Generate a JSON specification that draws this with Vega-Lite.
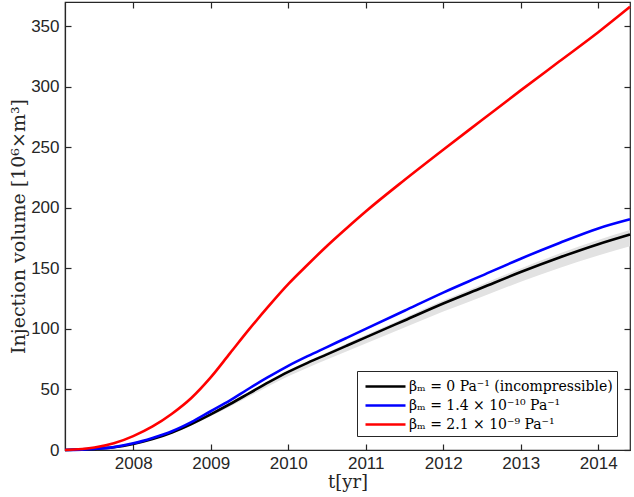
{
  "$schema": "https://vega.github.io/schema/vega-lite/v6.json",
  "width": 565,
  "height": 448,
  "autosize": "none",
  "padding": {"left": 65, "top": 2, "right": 4, "bottom": 47},
  "config": {
    "view": {"stroke": "#262626", "strokeWidth": 1.2},
    "axis": {
      "grid": false,
      "domainColor": "#262626",
      "tickColor": "#262626",
      "labelColor": "#262626",
      "labelFont": "Liberation Sans",
      "labelFontSize": 17,
      "titleFont": "DejaVu Serif",
      "titleFontSize": 19,
      "titleFontWeight": "normal",
      "titleColor": "#262626",
      "tickSize": -6,
      "domainWidth": 1.2,
      "tickWidth": 1.2
    }
  },
  "datasets": {
    "lines": [
      {"t": 2007.12, "v": 0, "s": "βₘ = 0 Pa⁻¹ (incompressible)"},
      {"t": 2007.5, "v": 0.8, "s": "βₘ = 0 Pa⁻¹ (incompressible)"},
      {"t": 2007.75, "v": 2.2, "s": "βₘ = 0 Pa⁻¹ (incompressible)"},
      {"t": 2008.0, "v": 5, "s": "βₘ = 0 Pa⁻¹ (incompressible)"},
      {"t": 2008.25, "v": 9, "s": "βₘ = 0 Pa⁻¹ (incompressible)"},
      {"t": 2008.5, "v": 14.5, "s": "βₘ = 0 Pa⁻¹ (incompressible)"},
      {"t": 2008.75, "v": 21.5, "s": "βₘ = 0 Pa⁻¹ (incompressible)"},
      {"t": 2009.0, "v": 29.5, "s": "βₘ = 0 Pa⁻¹ (incompressible)"},
      {"t": 2009.25, "v": 38, "s": "βₘ = 0 Pa⁻¹ (incompressible)"},
      {"t": 2009.5, "v": 47, "s": "βₘ = 0 Pa⁻¹ (incompressible)"},
      {"t": 2009.75, "v": 56, "s": "βₘ = 0 Pa⁻¹ (incompressible)"},
      {"t": 2010.0, "v": 64.5, "s": "βₘ = 0 Pa⁻¹ (incompressible)"},
      {"t": 2010.25, "v": 72, "s": "βₘ = 0 Pa⁻¹ (incompressible)"},
      {"t": 2010.5, "v": 79, "s": "βₘ = 0 Pa⁻¹ (incompressible)"},
      {"t": 2010.75, "v": 86, "s": "βₘ = 0 Pa⁻¹ (incompressible)"},
      {"t": 2011.0, "v": 93, "s": "βₘ = 0 Pa⁻¹ (incompressible)"},
      {"t": 2011.5, "v": 107, "s": "βₘ = 0 Pa⁻¹ (incompressible)"},
      {"t": 2012.0, "v": 121, "s": "βₘ = 0 Pa⁻¹ (incompressible)"},
      {"t": 2012.5, "v": 134, "s": "βₘ = 0 Pa⁻¹ (incompressible)"},
      {"t": 2013.0, "v": 147, "s": "βₘ = 0 Pa⁻¹ (incompressible)"},
      {"t": 2013.5, "v": 159, "s": "βₘ = 0 Pa⁻¹ (incompressible)"},
      {"t": 2014.0, "v": 170, "s": "βₘ = 0 Pa⁻¹ (incompressible)"},
      {"t": 2014.41, "v": 178, "s": "βₘ = 0 Pa⁻¹ (incompressible)"},
      {"t": 2007.12, "v": 0, "s": "βₘ = 1.4 × 10⁻¹⁰ Pa⁻¹"},
      {"t": 2007.5, "v": 0.9, "s": "βₘ = 1.4 × 10⁻¹⁰ Pa⁻¹"},
      {"t": 2007.75, "v": 2.4, "s": "βₘ = 1.4 × 10⁻¹⁰ Pa⁻¹"},
      {"t": 2008.0, "v": 5.5, "s": "βₘ = 1.4 × 10⁻¹⁰ Pa⁻¹"},
      {"t": 2008.25, "v": 10, "s": "βₘ = 1.4 × 10⁻¹⁰ Pa⁻¹"},
      {"t": 2008.5, "v": 15.5, "s": "βₘ = 1.4 × 10⁻¹⁰ Pa⁻¹"},
      {"t": 2008.75, "v": 23, "s": "βₘ = 1.4 × 10⁻¹⁰ Pa⁻¹"},
      {"t": 2009.0, "v": 32, "s": "βₘ = 1.4 × 10⁻¹⁰ Pa⁻¹"},
      {"t": 2009.25, "v": 41, "s": "βₘ = 1.4 × 10⁻¹⁰ Pa⁻¹"},
      {"t": 2009.5, "v": 51, "s": "βₘ = 1.4 × 10⁻¹⁰ Pa⁻¹"},
      {"t": 2009.75, "v": 60.5, "s": "βₘ = 1.4 × 10⁻¹⁰ Pa⁻¹"},
      {"t": 2010.0, "v": 69.5, "s": "βₘ = 1.4 × 10⁻¹⁰ Pa⁻¹"},
      {"t": 2010.25, "v": 77.5, "s": "βₘ = 1.4 × 10⁻¹⁰ Pa⁻¹"},
      {"t": 2010.5, "v": 85, "s": "βₘ = 1.4 × 10⁻¹⁰ Pa⁻¹"},
      {"t": 2010.75, "v": 92.5, "s": "βₘ = 1.4 × 10⁻¹⁰ Pa⁻¹"},
      {"t": 2011.0, "v": 100, "s": "βₘ = 1.4 × 10⁻¹⁰ Pa⁻¹"},
      {"t": 2011.5, "v": 115, "s": "βₘ = 1.4 × 10⁻¹⁰ Pa⁻¹"},
      {"t": 2012.0, "v": 130, "s": "βₘ = 1.4 × 10⁻¹⁰ Pa⁻¹"},
      {"t": 2012.5, "v": 144, "s": "βₘ = 1.4 × 10⁻¹⁰ Pa⁻¹"},
      {"t": 2013.0, "v": 158, "s": "βₘ = 1.4 × 10⁻¹⁰ Pa⁻¹"},
      {"t": 2013.5, "v": 171, "s": "βₘ = 1.4 × 10⁻¹⁰ Pa⁻¹"},
      {"t": 2014.0, "v": 183, "s": "βₘ = 1.4 × 10⁻¹⁰ Pa⁻¹"},
      {"t": 2014.41, "v": 190.5, "s": "βₘ = 1.4 × 10⁻¹⁰ Pa⁻¹"},
      {"t": 2007.12, "v": 0, "s": "βₘ = 2.1 × 10⁻⁹ Pa⁻¹"},
      {"t": 2007.5, "v": 2, "s": "βₘ = 2.1 × 10⁻⁹ Pa⁻¹"},
      {"t": 2007.75, "v": 5.5, "s": "βₘ = 2.1 × 10⁻⁹ Pa⁻¹"},
      {"t": 2008.0, "v": 11.5, "s": "βₘ = 2.1 × 10⁻⁹ Pa⁻¹"},
      {"t": 2008.25, "v": 19.5, "s": "βₘ = 2.1 × 10⁻⁹ Pa⁻¹"},
      {"t": 2008.5, "v": 30, "s": "βₘ = 2.1 × 10⁻⁹ Pa⁻¹"},
      {"t": 2008.75, "v": 43, "s": "βₘ = 2.1 × 10⁻⁹ Pa⁻¹"},
      {"t": 2009.0, "v": 60, "s": "βₘ = 2.1 × 10⁻⁹ Pa⁻¹"},
      {"t": 2009.25, "v": 80, "s": "βₘ = 2.1 × 10⁻⁹ Pa⁻¹"},
      {"t": 2009.5, "v": 100, "s": "βₘ = 2.1 × 10⁻⁹ Pa⁻¹"},
      {"t": 2009.75, "v": 119, "s": "βₘ = 2.1 × 10⁻⁹ Pa⁻¹"},
      {"t": 2010.0, "v": 137, "s": "βₘ = 2.1 × 10⁻⁹ Pa⁻¹"},
      {"t": 2010.25, "v": 153, "s": "βₘ = 2.1 × 10⁻⁹ Pa⁻¹"},
      {"t": 2010.5, "v": 168.5, "s": "βₘ = 2.1 × 10⁻⁹ Pa⁻¹"},
      {"t": 2010.75, "v": 183, "s": "βₘ = 2.1 × 10⁻⁹ Pa⁻¹"},
      {"t": 2011.0, "v": 197, "s": "βₘ = 2.1 × 10⁻⁹ Pa⁻¹"},
      {"t": 2011.5, "v": 223, "s": "βₘ = 2.1 × 10⁻⁹ Pa⁻¹"},
      {"t": 2012.0, "v": 248, "s": "βₘ = 2.1 × 10⁻⁹ Pa⁻¹"},
      {"t": 2012.5, "v": 272.5, "s": "βₘ = 2.1 × 10⁻⁹ Pa⁻¹"},
      {"t": 2013.0, "v": 297, "s": "βₘ = 2.1 × 10⁻⁹ Pa⁻¹"},
      {"t": 2013.5, "v": 321, "s": "βₘ = 2.1 × 10⁻⁹ Pa⁻¹"},
      {"t": 2014.0, "v": 345, "s": "βₘ = 2.1 × 10⁻⁹ Pa⁻¹"},
      {"t": 2014.41, "v": 366, "s": "βₘ = 2.1 × 10⁻⁹ Pa⁻¹"}
    ],
    "band": [
      {"t": 2007.12, "lo": 0, "hi": 0},
      {"t": 2007.5, "lo": 0.75, "hi": 0.82},
      {"t": 2007.75, "lo": 2.1, "hi": 2.25},
      {"t": 2008.0, "lo": 4.7, "hi": 5.1},
      {"t": 2008.25, "lo": 8.5, "hi": 9.2},
      {"t": 2008.5, "lo": 13.7, "hi": 14.8},
      {"t": 2008.75, "lo": 20.3, "hi": 21.9},
      {"t": 2009.0, "lo": 27.9, "hi": 30.1},
      {"t": 2009.25, "lo": 35.9, "hi": 38.8},
      {"t": 2009.5, "lo": 44.4, "hi": 47.9},
      {"t": 2009.75, "lo": 52.9, "hi": 57.1},
      {"t": 2010.0, "lo": 60.9, "hi": 65.8},
      {"t": 2010.25, "lo": 68.0, "hi": 73.4},
      {"t": 2010.5, "lo": 74.7, "hi": 80.6},
      {"t": 2010.75, "lo": 81.3, "hi": 87.7},
      {"t": 2011.0, "lo": 87.9, "hi": 94.9},
      {"t": 2011.5, "lo": 101.1, "hi": 109.1},
      {"t": 2012.0, "lo": 114.3, "hi": 123.4},
      {"t": 2012.5, "lo": 126.6, "hi": 136.7},
      {"t": 2013.0, "lo": 138.9, "hi": 149.9},
      {"t": 2013.5, "lo": 150.3, "hi": 162.2},
      {"t": 2014.0, "lo": 160.7, "hi": 173.4},
      {"t": 2014.41, "lo": 168.2, "hi": 181.6}
    ]
  },
  "layer": [
    {
      "data": {"name": "band"},
      "mark": {"type": "area", "color": "#e2e2e2", "interpolate": "monotone"},
      "encoding": {
        "x": {"field": "t", "type": "quantitative",
          "scale": {"domain": [2007.12, 2014.41], "nice": false, "zero": false},
          "axis": {"orient": "top", "labels": false, "title": null, "domain": false,
            "values": [2008, 2009, 2010, 2011, 2012, 2013, 2014]}},
        "y": {"field": "lo", "type": "quantitative",
          "scale": {"domain": [0, 370], "nice": false},
          "axis": {"orient": "right", "labels": false, "title": null, "domain": false,
            "values": [0, 50, 100, 150, 200, 250, 300, 350]}},
        "y2": {"field": "hi"}
      }
    },
    {
      "data": {"name": "lines"},
      "mark": {"type": "line", "strokeWidth": 2.6, "interpolate": "monotone"},
      "encoding": {
        "x": {"field": "t", "type": "quantitative",
          "axis": {"orient": "bottom", "title": "t[yr]", "format": "d",
            "values": [2008, 2009, 2010, 2011, 2012, 2013, 2014],
            "labelPadding": 11, "titlePadding": 2, "titleFontSize": 18}},
        "y": {"field": "v", "type": "quantitative",
          "axis": {"orient": "left", "title": "Injection volume [10⁶×m³]",
            "values": [0, 50, 100, 150, 200, 250, 300, 350],
            "labelPadding": 12, "titlePadding": 2}},
        "color": {"field": "s", "type": "nominal",
          "scale": {
            "domain": ["βₘ = 0 Pa⁻¹ (incompressible)", "βₘ = 1.4 × 10⁻¹⁰ Pa⁻¹", "βₘ = 2.1 × 10⁻⁹ Pa⁻¹"],
            "range": ["#000000", "#0000ff", "#ff0000"]},
          "legend": {
            "orient": "none", "legendX": 292, "legendY": 369,
            "title": null, "symbolType": "M-2,0H2", "symbolSize": 400,
            "symbolStrokeWidth": 2.6, "labelFont": "DejaVu Serif",
            "labelFontSize": 14, "labelColor": "#000000", "fillColor": "#ffffff",
            "strokeColor": "#262626", "padding": 4, "rowPadding": 0,
            "symbolOffset": 13,
            "labelLimit": 400, "labelOffset": 12
          }}
      }
    }
  ],
  "resolve": {"axis": {"x": "independent", "y": "independent"}}
}
